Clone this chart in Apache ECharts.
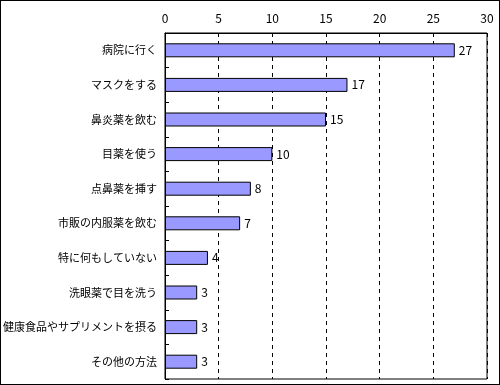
<!DOCTYPE html>
<html><head><meta charset="utf-8">
<script src="https://cdn.jsdelivr.net/npm/echarts@6/dist/echarts.min.js"></script>
<style>html,body{margin:0;padding:0;background:#fff}#c{width:500px;height:385px;box-sizing:border-box;border:1px solid #000}</style>
</head><body><div id="c"></div>
<script>
const categories = ["病院に行く","マスクをする","鼻炎薬を飲む","目薬を使う","点鼻薬を挿す","市販の内服薬を飲む","特に何もしていない","洗眼薬で目を洗う","健康食品やサプリメントを摂る","その他の方法"];
const values = [27,17,15,10,8,7,4,3,3,3];
const xTicks = {min:0,max:30,interval:5};
const font = "'Noto Sans CJK JP', sans-serif";
const chart = echarts.init(document.getElementById('c'));
chart.setOption({
  animation:false,
  grid:{left:164,right:12,top:32,bottom:5,outerBoundsMode:'none',containLabel:false,show:true,borderColor:'#000',borderWidth:1,backgroundColor:'#fff'},
  xAxis:{type:'value',position:'top',min:xTicks.min,max:xTicks.max,interval:xTicks.interval,
    axisLine:{show:true,lineStyle:{color:'#000'}},axisTick:{show:false},
    axisLabel:{color:'#000',fontFamily:font,fontSize:12,margin:9},
    splitLine:{show:true,lineStyle:{color:'#000',type:[4,4],width:1}}},
  yAxis:{type:'category',inverse:true,data:categories,
    axisLine:{show:true,lineStyle:{color:'#000'}},
    axisTick:{show:true,inside:true,length:4,lineStyle:{color:'#000'}},
    axisLabel:{color:'#000',fontFamily:font,fontSize:11,margin:8}},
  series:[{type:'bar',data:values,barWidth:14,
    itemStyle:{color:'#9999FF',borderColor:'#000',borderWidth:1},
    label:{show:true,position:'right',color:'#000',fontFamily:font,fontSize:12,distance:4}}]
});
</script></body></html>
